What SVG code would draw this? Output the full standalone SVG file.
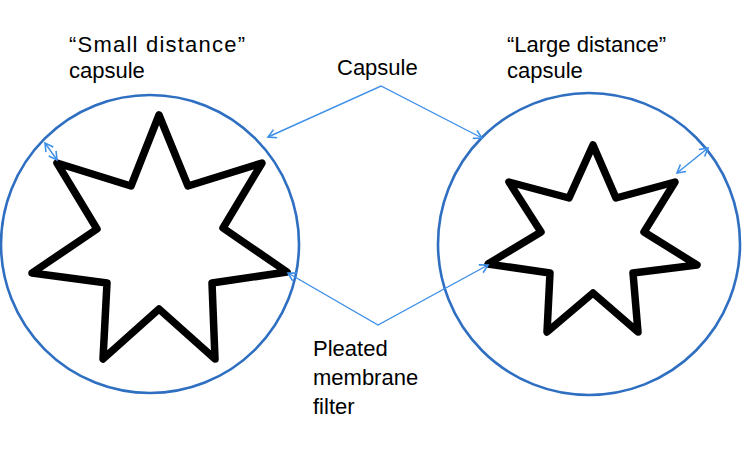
<svg xmlns="http://www.w3.org/2000/svg" width="750" height="450" viewBox="0 0 750 450">
<style>
.cap{fill:none;stroke:#2f6fc2;stroke-width:2.6}
.star{fill:none;stroke:#000;stroke-width:7.5;stroke-linejoin:round}
.con{fill:none;stroke:#3d8fe8;stroke-width:1.4}
text{font-family:"Liberation Sans",Arial,sans-serif;font-size:22px;fill:#000}
</style>
<defs>
<marker id="ah" viewBox="-10 -6 12 12" markerWidth="12" markerHeight="12" markerUnits="userSpaceOnUse" orient="auto-start-reverse" refX="0" refY="0">
<path d="M -8 -4.5 L 0 0 L -8 4.5" fill="none" stroke="#3d8fe8" stroke-width="1.6" stroke-linejoin="miter"/>
</marker>
</defs>
<rect width="750" height="450" fill="#fff"/>
<g id="left-capsule">
<circle class="cap" cx="150" cy="244" r="149"/>
<polygon class="star" points="159,115 188,186 262,163 223,228 287,272 212,283 215,359 159,309 103,359 107,283 32,273 97,229 57,163 131,186"/>
<text x="69" y="52" textLength="176" lengthAdjust="spacing">“Small distance”</text>
<text x="69" y="78">capsule</text>
</g>
<g id="right-capsule">
<circle class="cap" cx="589" cy="244" r="151"/>
<polygon class="star" points="593,145 616,198 675,182 644,232 697,265 633,273 638,332 593,293 547,332 550,273 488,264 541,232 509,182 569,198"/>
<text x="507" y="52">“Large distance”</text>
<text x="507" y="78">capsule</text>
</g>
<g id="capsule-label">
<text x="337" y="75">Capsule</text>
</g>
<g id="filter-label">
<text x="313" y="356">Pleated</text>
<text x="313" y="385">membrane</text>
<text x="313" y="414">filter</text>
</g>
<g id="connectors">
<polyline class="con" points="268,137 381,86 482,138" marker-start="url(#ah)" marker-end="url(#ah)"/>
<polyline class="con" points="288,273 378,325 488,265" marker-start="url(#ah)" marker-end="url(#ah)"/>
<line class="con" x1="45" y1="143" x2="57" y2="160" marker-start="url(#ah)" marker-end="url(#ah)"/>
<line class="con" x1="677" y1="173" x2="708" y2="148" marker-start="url(#ah)" marker-end="url(#ah)"/>
</g>
</svg>
